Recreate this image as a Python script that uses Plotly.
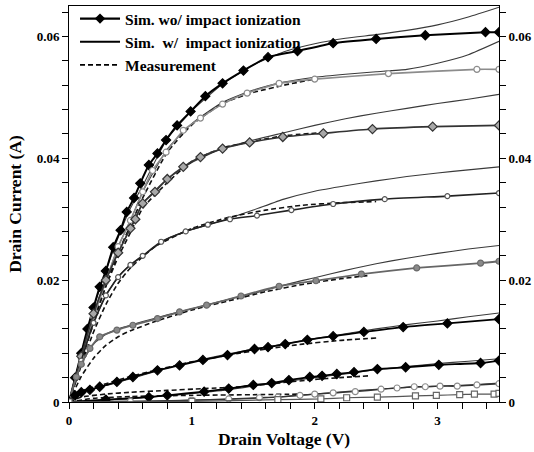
import plotly.graph_objects as go

# ---------------- data ----------------
# common voltage grid for "Sim. w/ impact ionization" curves
V_W = [0, 0.1, 0.2, 0.3, 0.4, 0.5, 0.6, 0.8, 1.0, 1.25, 1.5, 1.75, 2.0, 2.25, 2.5, 2.75, 3.0, 3.25, 3.5]

# Sim. wo/ impact ionization (marker curves)
A_V = [0, 0.05, 0.1, 0.15, 0.2, 0.25, 0.3, 0.36, 0.42, 0.47, 0.53, 0.58, 0.65, 0.72, 0.79, 0.88, 0.99, 1.11, 1.25, 1.42, 1.62, 1.86, 2.15, 2.5, 2.9, 3.39, 3.5]
A_I = [0, 0.0040, 0.0080, 0.0120, 0.0155, 0.0189, 0.0215, 0.0254, 0.0282, 0.0312, 0.0335, 0.0359, 0.0389, 0.0408, 0.0430, 0.0454, 0.0477, 0.0502, 0.0523, 0.0544, 0.0566, 0.0576, 0.0589, 0.0596, 0.0602, 0.0607, 0.0607]
B_V = [0, 0.1, 0.2, 0.3, 0.4, 0.5, 0.6, 0.68, 0.79, 0.93, 1.07, 1.25, 1.45, 1.71, 2.0, 2.6, 3.32, 3.5]
B_I = [0, 0.0072, 0.0140, 0.0198, 0.0255, 0.0298, 0.0345, 0.0380, 0.0410, 0.0446, 0.0466, 0.0489, 0.0507, 0.0523, 0.0530, 0.0539, 0.0546, 0.0546]
C_V = [0, 0.1, 0.2, 0.3, 0.4, 0.5, 0.54, 0.6, 0.7, 0.8, 0.93, 1.07, 1.25, 1.47, 1.74, 2.07, 2.47, 2.96, 3.5]
C_I = [0, 0.0075, 0.0145, 0.0200, 0.0245, 0.0285, 0.0300, 0.0326, 0.0345, 0.0366, 0.0386, 0.0402, 0.0416, 0.0426, 0.0435, 0.0441, 0.0448, 0.0452, 0.0454]
D_V = [0, 0.1, 0.2, 0.3, 0.4, 0.5, 0.6, 0.75, 0.95, 1.13, 1.31, 1.53, 1.81, 2.15, 2.57, 3.08, 3.5]
D_I = [0, 0.0068, 0.0130, 0.0175, 0.0205, 0.0225, 0.0240, 0.0263, 0.0280, 0.0291, 0.0300, 0.0306, 0.0315, 0.0325, 0.0333, 0.0338, 0.0343]
E_V = [0, 0.06, 0.1, 0.17, 0.25, 0.39, 0.52, 0.72, 0.9, 1.12, 1.4, 1.71, 2.01, 2.38, 2.83, 3.35, 3.5]
E_I = [0, 0.0041, 0.0062, 0.0088, 0.0107, 0.0118, 0.0126, 0.0137, 0.0148, 0.0159, 0.0174, 0.0190, 0.0199, 0.0210, 0.0220, 0.0228, 0.0231]
F_V = [0, 0.05, 0.1, 0.17, 0.25, 0.39, 0.52, 0.72, 0.9, 1.09, 1.29, 1.51, 1.62, 1.76, 1.94, 2.15, 2.4, 2.72, 3.08, 3.5]
F_I = [0, 0.0011, 0.0016, 0.0020, 0.0025, 0.0033, 0.0041, 0.0052, 0.0060, 0.0069, 0.0077, 0.0087, 0.0090, 0.0095, 0.0102, 0.0108, 0.0115, 0.0123, 0.0129, 0.0136]
G_V = [0, 0.3, 0.65, 0.8, 1.1, 1.3, 1.5, 1.65, 1.79, 1.96, 2.06, 2.18, 2.32, 2.51, 2.74, 3.01, 3.35, 3.5]
G_I = [0, 0.0004, 0.0008, 0.0011, 0.0017, 0.0022, 0.0028, 0.0031, 0.0036, 0.0041, 0.0043, 0.0046, 0.0049, 0.0054, 0.0057, 0.0061, 0.0064, 0.0068]
H_V = [0, 0.5, 1.0, 1.3, 1.55, 1.7, 1.88, 2.0, 2.15, 2.33, 2.54, 2.67, 2.81, 2.9, 3.02, 3.16, 3.32, 3.5]
H_I = [0, 0.0001, 0.0003, 0.0005, 0.0007, 0.0008, 0.0011, 0.0013, 0.0015, 0.0017, 0.0021, 0.0023, 0.0025, 0.0025, 0.0026, 0.0026, 0.0028, 0.0030]
I_V = [0, 1.0, 1.7, 2.05, 2.26, 2.51, 2.82, 2.99, 3.18, 3.3, 3.46, 3.5]
I_I = [0, 0.0001, 0.0004, 0.0005, 0.0007, 0.0008, 0.0010, 0.0011, 0.0012, 0.0013, 0.0013, 0.0014]

# Sim. w/ impact ionization (thin lines) on V_W
A_W = [0, 0.0080, 0.0155, 0.0215, 0.0270, 0.0318, 0.0355, 0.0432, 0.0478, 0.0522, 0.0553, 0.0575, 0.0588, 0.0597, 0.0603, 0.0610, 0.0619, 0.0632, 0.0648]
B_W = [0, 0.0072, 0.0140, 0.0198, 0.0255, 0.0298, 0.0345, 0.0415, 0.0457, 0.0492, 0.0512, 0.0525, 0.0533, 0.0538, 0.0542, 0.0546, 0.0556, 0.0570, 0.0592]
C_W = [0, 0.0075, 0.0145, 0.0200, 0.0245, 0.0285, 0.0326, 0.0366, 0.0393, 0.0416, 0.0430, 0.0442, 0.0454, 0.0465, 0.0474, 0.0482, 0.0490, 0.0497, 0.0505]
D_W = [0, 0.0068, 0.0130, 0.0175, 0.0205, 0.0225, 0.0240, 0.0268, 0.0283, 0.0298, 0.0315, 0.0333, 0.0346, 0.0355, 0.0363, 0.0370, 0.0376, 0.0381, 0.0386]
E_W = [0, 0.0062, 0.0095, 0.0111, 0.0120, 0.0126, 0.0132, 0.0143, 0.0153, 0.0166, 0.0178, 0.0192, 0.0204, 0.0216, 0.0227, 0.0236, 0.0244, 0.0251, 0.0257]
F_W = [0, 0.0016, 0.0022, 0.0027, 0.0032, 0.0038, 0.0044, 0.0056, 0.0066, 0.0077, 0.0087, 0.0095, 0.0104, 0.0112, 0.0120, 0.0127, 0.0133, 0.0140, 0.0146]
G_W = [0, 0.0001, 0.0002, 0.0003, 0.0004, 0.0005, 0.0007, 0.0010, 0.0014, 0.0019, 0.0026, 0.0033, 0.0040, 0.0046, 0.0053, 0.0058, 0.0063, 0.0067, 0.0071]
H_W = [0, 0, 0, 0, 0.0001, 0.0001, 0.0001, 0.0002, 0.0003, 0.0004, 0.0006, 0.0009, 0.0013, 0.0017, 0.0021, 0.0024, 0.0026, 0.0028, 0.0031]

# Measurement (dashed)
MB_V = [0, 0.1, 0.2, 0.3, 0.4, 0.5, 0.6, 0.8, 1.0, 1.25, 1.5, 1.75, 2.0]
MB_I = [0, 0.0065, 0.0130, 0.0190, 0.0245, 0.0290, 0.0335, 0.0410, 0.0455, 0.0490, 0.0508, 0.0520, 0.0530]
MC_V = [0, 0.1, 0.2, 0.3, 0.4, 0.5, 0.6, 0.8, 1.0, 1.25, 1.5, 1.75, 2.05]
MC_I = [0, 0.0070, 0.0138, 0.0190, 0.0238, 0.0278, 0.0318, 0.0360, 0.0395, 0.0417, 0.0428, 0.0437, 0.0442]
MD_V = [0, 0.1, 0.2, 0.3, 0.4, 0.5, 0.7, 1.0, 1.3, 1.6, 1.9, 2.2, 2.5]
MD_I = [0, 0.0060, 0.0115, 0.0160, 0.0195, 0.0220, 0.0255, 0.0285, 0.0303, 0.0315, 0.0323, 0.0327, 0.0329]
ME_V = [0, 0.1, 0.2, 0.3, 0.4, 0.5, 0.7, 1.0, 1.3, 1.6, 1.9, 2.2, 2.45]
ME_I = [0, 0.0042, 0.0072, 0.0093, 0.0107, 0.0117, 0.0132, 0.0151, 0.0166, 0.0181, 0.0193, 0.0202, 0.0208]
MF_V = [0, 0.1, 0.3, 0.5, 0.7, 1.0, 1.3, 1.6, 1.9, 2.2, 2.5]
MF_I = [0, 0.0018, 0.0030, 0.0042, 0.0052, 0.0066, 0.0077, 0.0087, 0.0095, 0.0101, 0.0105]
MG_V = [0, 0.1, 0.3, 0.5, 0.8, 1.1, 1.4, 1.7, 2.0, 2.2, 2.45]
MG_I = [0, 0.0008, 0.0013, 0.0016, 0.0019, 0.0022, 0.0025, 0.0031, 0.0037, 0.0040, 0.0043]
MH_V = [0, 0.2, 0.5, 1.0, 1.5, 1.9]
MH_I = [0, 0.0006, 0.0009, 0.0011, 0.0012, 0.0013]

X_TICKS = [0, 1, 2, 3]
X_LABELS = ["0", "1", "2", "3"]
Y_TICKS = [0, 0.02, 0.04, 0.06]
Y_LABELS = ["0", "0.02", "0.04", "0.06"]

LEG_WO = "Sim. wo/ impact ionization"
LEG_W = "Sim.\u00a0 w/\u00a0 impact ionization"
LEG_M = "Measurement"

# ---------------- figure ----------------
FONT = "Liberation Serif, Times New Roman, serif"
fig = go.Figure()

# thin "w/" lines
for yw in [A_W, B_W, C_W, D_W, E_W, F_W, G_W, H_W]:
    fig.add_trace(go.Scatter(x=V_W, y=yw, mode="lines",
                             line=dict(color="#3a3a3a", width=1.1, shape="spline", smoothing=0.5),
                             showlegend=False, hoverinfo="skip"))

# measurement dashed
for mv, mi in [(MB_V, MB_I), (MC_V, MC_I), (MD_V, MD_I), (ME_V, ME_I),
               (MF_V, MF_I), (MG_V, MG_I), (MH_V, MH_I)]:
    fig.add_trace(go.Scatter(x=mv, y=mi, mode="lines",
                             line=dict(color="#111", width=1.6, dash="5px,3px", shape="spline", smoothing=0.5),
                             showlegend=False, hoverinfo="skip"))

# wo/ curves with markers
series = [
    (A_V, A_I, "#000", 2.0, "diamond", "#000", "#000", 7),
    (B_V, B_I, "#8c8c8c", 1.6, "circle", "#fff", "#8c8c8c", 6),
    (C_V, C_I, "#333", 1.6, "diamond", "#a8a8a8", "#333", 7),
    (D_V, D_I, "#222", 1.6, "circle", "#fff", "#555", 5),
    (E_V, E_I, "#666", 1.8, "circle", "#8a8a8a", "#6a6a6a", 6),
    (F_V, F_I, "#000", 1.8, "diamond", "#000", "#000", 7),
    (G_V, G_I, "#000", 1.8, "diamond", "#000", "#000", 7),
    (H_V, H_I, "#333", 1.4, "circle", "#fff", "#8c8c8c", 6),
    (I_V, I_I, "#555", 1.2, "square", "#fff", "#666", 6),
]
for xv, yv, lc, lw, sym, fc, mc, ms in series:
    fig.add_trace(go.Scatter(x=xv, y=yv, mode="lines+markers",
                             line=dict(color=lc, width=lw, shape="spline", smoothing=0.5),
                             marker=dict(symbol=sym, size=ms, color=fc, line=dict(color=mc, width=1.2)),
                             showlegend=False, hoverinfo="skip"))

# legend proxies
fig.add_trace(go.Scatter(x=[None], y=[None], mode="lines+markers", name=LEG_WO,
                         line=dict(color="#000", width=2.2),
                         marker=dict(symbol="diamond", size=8, color="#000")))
fig.add_trace(go.Scatter(x=[None], y=[None], mode="lines", name=LEG_W,
                         line=dict(color="#000", width=2)))
fig.add_trace(go.Scatter(x=[None], y=[None], mode="lines", name=LEG_M,
                         line=dict(color="#000", width=1.6, dash="5px,3px")))

# dummy for right axis
fig.add_trace(go.Scatter(x=[0], y=[0], yaxis="y2", mode="lines", line=dict(width=0),
                         showlegend=False, hoverinfo="skip"))

tickfont = dict(family=FONT, size=13, color="#000", weight="bold")
fig.update_layout(
    width=534, height=452,
    margin=dict(l=69, r=35, t=6, b=50, autoexpand=False),
    paper_bgcolor="white", plot_bgcolor="white",
    font=dict(family=FONT, color="#000"),
    showlegend=True,
    legend=dict(x=0.014, y=1.01, xanchor="left", yanchor="top", bgcolor="rgba(0,0,0,0)",
                font=dict(family=FONT, size=15.5, color="#000", weight="bold"),
                tracegroupgap=0, itemwidth=40),
    xaxis=dict(range=[0, 3.5], tickvals=X_TICKS, ticktext=X_LABELS, ticks="outside", ticklen=6,
               tickwidth=1, tickcolor="#000", showline=True, linecolor="#000", linewidth=1,
               mirror=True, showgrid=False, zeroline=False, tickfont=tickfont, automargin=False,
               minor=dict(dtick=0.2, ticks="outside", ticklen=6, tickcolor="#000", showgrid=False),
               title=dict(text="Drain Voltage (V)", standoff=6,
                          font=dict(family=FONT, size=17.5, color="#000", weight="bold"))),
    yaxis=dict(range=[0, 0.065], tickvals=Y_TICKS, ticktext=Y_LABELS, ticks="outside", ticklen=6,
               tickwidth=1, tickcolor="#000", showline=True, linecolor="#000", linewidth=1,
               showgrid=False, zeroline=False, tickfont=tickfont, automargin=False,
               minor=dict(dtick=0.004, ticks="outside", ticklen=6, tickcolor="#000", showgrid=False),
               title=dict(text="Drain Current (A)", standoff=10,
                          font=dict(family=FONT, size=17.5, color="#000", weight="bold"))),
    yaxis2=dict(range=[0, 0.065], overlaying="y", side="right", tickvals=Y_TICKS, ticktext=Y_LABELS,
                ticks="outside", ticklen=6, tickwidth=1, tickcolor="#000", showline=True,
                linecolor="#000", linewidth=1, showgrid=False, zeroline=False, tickfont=tickfont,
                automargin=False,
                minor=dict(dtick=0.004, ticks="outside", ticklen=6, tickcolor="#000", showgrid=False)),
)

fig.write_html("out.html", config={"displayModeBar": False},
               post_script="document.body.style.margin='0';document.body.style.padding='0';")
